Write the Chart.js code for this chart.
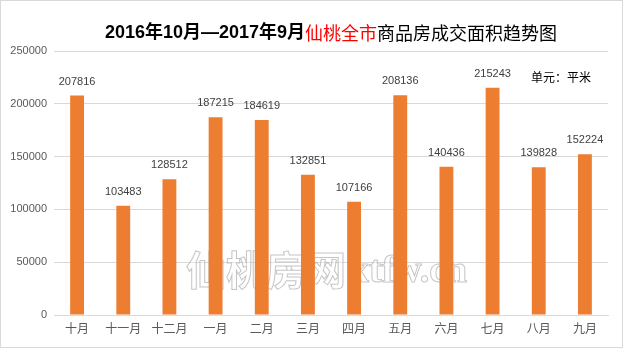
<!DOCTYPE html>
<html>
<head>
<meta charset="utf-8">
<script src="https://cdn.jsdelivr.net/npm/chart.js@4/dist/chart.umd.min.js"></script>
<style>
  html, body { margin: 0; padding: 0; background: #fff; }
  #wrap { position: relative; width: 623px; height: 348px; }
  #wrap::after { content: ''; position: absolute; inset: 0; border: 1px solid #d9d9d9; pointer-events: none; }
</style>
</head>
<body>
<div id="wrap"><canvas id="c" width="623" height="348"></canvas></div>
<script>
const months = ['十月', '十一月', '十二月', '一月', '二月', '三月', '四月', '五月', '六月', '七月', '八月', '九月'];
const area = [207816, 103483, 128512, 187215, 184619, 132851, 107166, 208136, 140436, 215243, 139828, 152224];
const yTicks = [0, 50000, 100000, 150000, 200000, 250000];

const titleParts = [
  { text: '2016年10月—2017年9月', color: '#000', weight: 'bold' },
  { text: '仙桃全市', color: '#ff0000', weight: 'normal' },
  { text: '商品房成交面积趋势图', color: '#000', weight: 'normal' }
];
const unitText = '单元：平米';
const cjk = "'Noto Sans CJK SC', sans-serif";
const num = "'Liberation Sans', Arial, sans-serif";

// title, unit label, watermark and value labels
const decor = {
  id: 'decor',
  beforeDatasetsDraw(chart) {
    const ctx = chart.ctx;
    ctx.save();
    // watermark
    ctx.textBaseline = 'middle';
    ctx.textAlign = 'left';
    ctx.lineWidth = 1;
    ctx.strokeStyle = 'rgba(150,150,150,0.55)';
    ctx.fillStyle = 'rgba(255,255,255,0.35)';
    ctx.font = 'bold 40px ' + cjk;
    ctx.fillText('仙桃房网', 186, 270);
    ctx.strokeText('仙桃房网', 186, 270);
    ctx.font = 'bold 38px "Liberation Serif", serif';
    ctx.fillText('xtfw.cn', 350, 272);
    ctx.strokeText('xtfw.cn', 350, 272);
    ctx.restore();
  },
  afterDatasetsDraw(chart) {
    const ctx = chart.ctx;
    ctx.save();
    // title
    ctx.textBaseline = 'middle';
    ctx.textAlign = 'left';
    const fonts = titleParts.map(p => p.weight + ' 18px ' + (p.weight === 'bold' ? num + ", 'Noto Sans CJK SC'" : cjk));
    let total = 0;
    const widths = titleParts.map((p, i) => { ctx.font = fonts[i]; const w = ctx.measureText(p.text).width; total += w; return w; });
    let x = 331 - total / 2;
    titleParts.forEach((p, i) => {
      ctx.font = fonts[i];
      ctx.fillStyle = p.color;
      ctx.fillText(p.text, x, 33);
      x += widths[i];
    });
    // unit
    ctx.font = '12px ' + cjk;
    ctx.fillStyle = '#000';
    ctx.fillText(unitText, 531, 77);
    // value labels
    ctx.textAlign = 'center';
    ctx.font = '11px ' + num;
    ctx.fillStyle = '#404040';
    chart.getDatasetMeta(0).data.forEach((bar, i) => {
      ctx.fillText(String(area[i]), bar.x, bar.y - 14);
    });
    ctx.restore();
  }
};

new Chart(document.getElementById('c'), {
  type: 'bar',
  data: {
    labels: months,
    datasets: [{
      data: area,
      backgroundColor: '#ed7d31',
      categoryPercentage: 1,
      barPercentage: 0.3
    }]
  },
  options: {
    responsive: false,
    animation: false,
    layout: { padding: { top: 51, right: 15, left: 0, bottom: 0 } },
    plugins: { legend: { display: false }, tooltip: { enabled: false }, title: { display: false } },
    scales: {
      x: {
        grid: { display: false, drawTicks: false },
        border: { color: '#d9d9d9' },
        ticks: { color: '#595959', font: { size: 12, family: cjk }, padding: 6, maxRotation: 0, autoSkip: false },
        afterFit(s) { s.height = 33; }
      },
      y: {
        min: 0,
        max: 250000,
        afterBuildTicks(s) { s.ticks = yTicks.map(v => ({ value: v })); },
        grid: { color: '#d9d9d9', drawTicks: false },
        border: { display: false },
        ticks: { color: '#595959', font: { size: 11, family: num }, padding: 7, callback: v => String(v) },
        afterFit(s) { s.width = 54; }
      }
    }
  },
  plugins: [decor]
});
</script>
</body>
</html>
